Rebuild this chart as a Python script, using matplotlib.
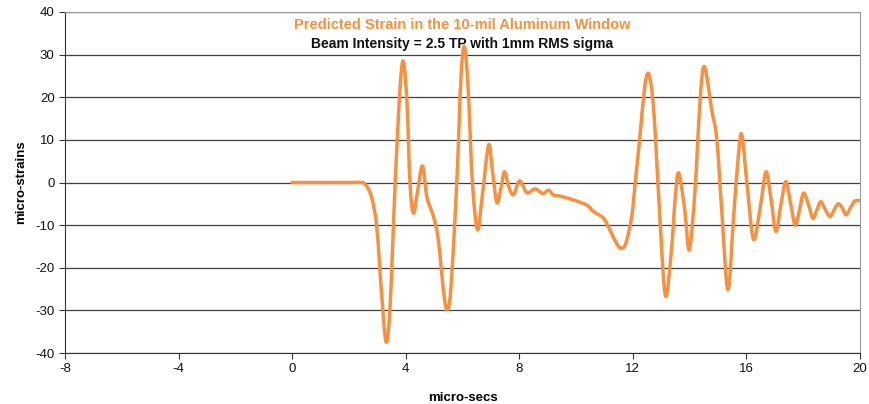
import matplotlib.pyplot as plt
from matplotlib.path import Path
from matplotlib.patches import PathPatch

plt.rcParams["axes.unicode_minus"] = False
plt.rcParams["font.family"] = "Liberation Sans"

# time (micro-secs) and strain (micro-strains)
t = [0.0, 1.0, 2.0, 2.45, 2.6, 2.8, 2.98, 3.15, 3.31, 3.45, 3.63, 3.8, 3.92, 4.05,
     4.15, 4.27, 4.42, 4.59, 4.75, 4.98, 5.15, 5.35, 5.48, 5.6, 5.8, 5.95, 6.07,
     6.2, 6.35, 6.53, 6.7, 6.92, 7.05, 7.21, 7.35, 7.48, 7.63, 7.8, 8.01, 8.27,
     8.56, 8.83, 9.03, 9.2, 9.44, 9.91, 10.38, 10.61, 10.97, 11.19, 11.4, 11.58,
     11.75, 11.96, 12.1, 12.26, 12.42, 12.55, 12.68, 12.79, 12.95, 13.15, 13.36,
     13.5, 13.62, 13.83, 13.99, 14.19, 14.37, 14.52, 14.78, 14.96, 15.13, 15.35,
     15.55, 15.72, 15.84, 16.02, 16.25, 16.49, 16.69, 16.87, 17.04, 17.22, 17.39,
     17.56, 17.72, 17.87, 18.01, 18.18, 18.34, 18.48, 18.62, 18.79, 18.95, 19.1,
     19.24, 19.38, 19.52, 19.7, 19.83, 20.0]
strain = [0.0, 0.0, 0.0, 0.0, -0.6, -3.5, -10.4, -26.0, -37.4, -29.0, 0.0, 22.0, 28.4, 18.0,
          0.0, -7.2, -2.0, 3.9, -3.5, -8.0, -13.5, -26.5, -29.8, -24.0, 0.0, 25.0, 31.8,
          22.0, 0.0, -11.1, -3.0, 8.8, 3.0, -4.7, -1.5, 2.5, -1.0, -2.9, 0.4, -2.4,
          -1.5, -2.6, -1.8, -2.9, -3.2, -4.1, -5.3, -6.8, -8.4, -11.1, -14.0, -15.4,
          -14.3, -8.0, 1.0, 11.5, 22.5, 25.6, 21.0, 11.5, -8.0, -26.6, -15.8,
          -3.0, 2.2, -6.5, -15.8, -1.8, 19.4, 27.2, 17.0, 10.0, -6.5, -25.2,
          -8.0, 6.5, 11.2, -0.2, -13.3, -5.7, 2.5, -4.0, -11.5, -5.0, 0.2,
          -5.0, -10.0, -6.5, -2.5, -5.0, -8.4, -6.5, -4.5, -6.5, -8.0, -6.3,
          -5.0, -6.0, -7.6, -5.5, -4.3, -4.3]

orange = "#F7903F"


def smooth_path(xs, ys, k=1 / 6):
    # Excel-style smoothed line: Catmull-Rom segments drawn as cubic Beziers
    n = len(xs)
    verts = [(xs[0], ys[0])]
    codes = [Path.MOVETO]
    for i in range(n - 1):
        x0, y0 = xs[max(i - 1, 0)], ys[max(i - 1, 0)]
        x1, y1 = xs[i], ys[i]
        x2, y2 = xs[i + 1], ys[i + 1]
        x3, y3 = xs[min(i + 2, n - 1)], ys[min(i + 2, n - 1)]
        c1 = (x1 + (x2 - x0) * k, y1 + (y2 - y0) * k)
        c2 = (x2 - (x3 - x1) * k, y2 - (y3 - y1) * k)
        verts += [c1, c2, (x2, y2)]
        codes += [Path.CURVE4] * 3
    return Path(verts, codes)


fig = plt.figure(figsize=(8.69, 4.04), dpi=100)
ax = fig.add_axes([0.0748, 0.1262, 0.9148, 0.8441])

ax.add_patch(PathPatch(smooth_path(t, strain), facecolor="none", edgecolor=orange,
                       linewidth=2.5, joinstyle="round", capstyle="round", zorder=3))

ax.set_xlim(-8, 20)
ax.set_ylim(-40, 40)
ax.set_xticks(range(-8, 21, 4))
ax.set_yticks(range(-40, 41, 10))
ax.yaxis.grid(True, color="#404040", linewidth=0.9)
ax.set_axisbelow(True)

for s in ["top", "right"]:
    ax.spines[s].set_color("#999999")
for s in ["left", "bottom"]:
    ax.spines[s].set_color("#333333")
ax.tick_params(direction="out", length=4, color="#333333", labelsize=9.5,
               labelcolor="#111111")

ax.set_xlabel("micro-secs", fontweight="bold", fontsize=9.5, labelpad=12)
ax.set_ylabel("micro-strains", fontweight="bold", fontsize=9.5, labelpad=6)

ax.text(0.5, 0.962, "Predicted Strain in the 10-mil Aluminum Window",
        transform=ax.transAxes, ha="center", va="center", color=orange,
        fontweight="bold", fontsize=10.5)
ax.text(0.5, 0.906, "Beam Intensity = 2.5 TP with 1mm RMS sigma",
        transform=ax.transAxes, ha="center", va="center", color="#111111",
        fontweight="bold", fontsize=10)

fig.savefig("out.png", dpi=100)
